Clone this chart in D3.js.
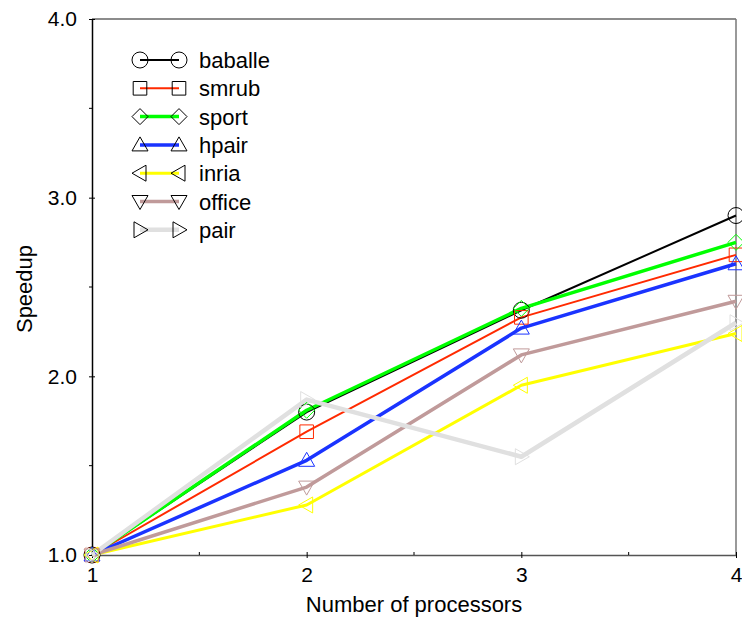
<!DOCTYPE html>
<html>
<head>
<meta charset="utf-8">
<script src="https://cdn.jsdelivr.net/npm/d3@7"></script>
<style>
  body { margin: 0; background: #fff; }
  text { font-family: "Liberation Sans", Arial, sans-serif; }
</style>
</head>
<body>
<div id="chart"></div>
<script>
// data
const processors = [1, 2, 3, 4];
const seriesNames = ["baballe", "smrub", "sport", "hpair", "inria", "office", "pair"];
const baballe = [1.0, 1.80, 2.37, 2.90];
const smrub   = [1.0, 1.69, 2.33, 2.68];
const sport   = [1.0, 1.81, 2.38, 2.75];
const hpair   = [1.0, 1.53, 2.27, 2.63];
const inria   = [1.0, 1.28, 1.95, 2.24];
const office  = [1.0, 1.38, 2.12, 2.42];
const pair    = [1.0, 1.87, 1.55, 2.30];
const yTicks = [1.0, 2.0, 3.0, 4.0];
const xTicks = [1, 2, 3, 4];

const values = [baballe, smrub, sport, hpair, inria, office, pair];
const colors = ["#000000", "#ff2a00", "#00ff00", "#1a33ff", "#ffff00", "#c09a9a", "#e0e0e0"];
const widths = [2, 2, 3.5, 3.5, 3, 3.5, 4.5];
const shapes = ["circle", "square", "diamond", "up", "left", "down", "right"];

const margin = {top: 19, right: 6, bottom: 69, left: 92},
  width = 742 - margin.left - margin.right,
  height = 624 - margin.top - margin.bottom;

const svg = d3.select("#chart")
  .append("svg")
  .attr("width", 742)
  .attr("height", 624)
  .append("g")
  .attr("transform", `translate(${margin.left},${margin.top})`);

const x = d3.scaleLinear().domain([1, 4]).range([0, width]);
const y = d3.scaleLinear().domain([1, 4]).range([height, 0]);

// frame: top and right in gray
svg.append("line").attr("x1", 0).attr("x2", width).attr("y1", 0).attr("y2", 0)
  .attr("stroke", "#666").attr("stroke-width", 1.5);
svg.append("line").attr("x1", width).attr("x2", width).attr("y1", 0).attr("y2", height)
  .attr("stroke", "#777").attr("stroke-width", 1.5);

// X axis
const xAxis = svg.append("g")
  .attr("transform", `translate(0, ${height})`)
  .call(d3.axisBottom(x).tickValues(xTicks).tickFormat(d3.format("d")).tickSize(3).tickSizeOuter(0));
xAxis.select(".domain").attr("stroke", "#555").attr("stroke-width", 1.5);
xAxis.selectAll(".tick line").attr("y1", -3).attr("y2", 3);
xAxis.selectAll(".tick text").attr("font-size", 21).attr("dy", 0).attr("y", 27)
  .attr("font-family", "Liberation Sans, Arial, sans-serif").attr("fill", "#000");
// minor x ticks
svg.append("g").selectAll("line").data([1.5, 2.5, 3.5]).join("line")
  .attr("x1", d => x(d)).attr("x2", d => x(d))
  .attr("y1", height - 3).attr("y2", height).attr("stroke", "#000");

// Y axis
const yAxis = svg.append("g")
  .call(d3.axisLeft(y).tickValues(yTicks).tickFormat(d3.format(".1f")).tickSize(3).tickSizeOuter(0));
yAxis.select(".domain").attr("stroke", "#000").attr("stroke-width", 1.5);
yAxis.selectAll(".tick line").attr("x1", -3).attr("x2", 3);
yAxis.selectAll(".tick text").attr("font-size", 21).attr("x", -15)
  .attr("font-family", "Liberation Sans, Arial, sans-serif").attr("fill", "#000");
svg.append("g").selectAll("line").data([1.5, 2.5, 3.5]).join("line")
  .attr("x1", -3).attr("x2", 0)
  .attr("y1", d => y(d)).attr("y2", d => y(d)).attr("stroke", "#000");

// axis titles
svg.append("text")
  .attr("x", width / 2).attr("y", height + 57)
  .attr("text-anchor", "middle").attr("font-size", 22)
  .text("Number of processors");
svg.append("text")
  .attr("transform", `translate(${-60}, ${height / 2 + 2}) rotate(-90)`)
  .attr("text-anchor", "middle").attr("font-size", 22)
  .text("Speedup");

// marker path builder
function markerPath(shape, r) {
  const s = d3.path();
  if (shape === "circle") {
    s.arc(0, 0, r, 0, 2 * Math.PI);
  } else if (shape === "square") {
    s.rect(-r * 0.85, -r * 0.85, r * 1.7, r * 1.7);
  } else if (shape === "diamond") {
    s.moveTo(0, -r); s.lineTo(r, 0); s.lineTo(0, r); s.lineTo(-r, 0); s.closePath();
  } else if (shape === "up") {
    s.moveTo(0, -r); s.lineTo(r, r * 0.75); s.lineTo(-r, r * 0.75); s.closePath();
  } else if (shape === "down") {
    s.moveTo(0, r); s.lineTo(r, -r * 0.75); s.lineTo(-r, -r * 0.75); s.closePath();
  } else if (shape === "left") {
    s.moveTo(-r, 0); s.lineTo(r * 0.75, -r); s.lineTo(r * 0.75, r); s.closePath();
  } else if (shape === "right") {
    s.moveTo(r, 0); s.lineTo(-r * 0.75, -r); s.lineTo(-r * 0.75, r); s.closePath();
  }
  return s.toString();
}

const line = d3.line()
  .x((d, i) => x(processors[i]))
  .y(d => y(d));

// lines and markers
values.forEach(function(vals, k) {
  svg.append("path")
    .datum(vals)
    .attr("fill", "none")
    .attr("stroke", colors[k])
    .attr("stroke-width", widths[k])
    .attr("stroke-linejoin", "round")
    .attr("d", line);
});
values.forEach(function(vals, k) {
  svg.append("g").selectAll("path")
    .data(vals)
    .join("path")
    .attr("transform", (d, i) => `translate(${x(processors[i])},${y(d)})`)
    .attr("d", markerPath(shapes[k], 8))
    .attr("fill", "none")
    .attr("stroke", k === 0 ? "#000" : colors[k])
    .attr("stroke-width", 1);
});

// legend
const legend = svg.append("g").attr("transform", "translate(40, 41)");
seriesNames.forEach(function(name, k) {
  const g = legend.append("g").attr("transform", `translate(0, ${k * 28.3})`);
  g.append("line").attr("x1", 8).attr("x2", 47).attr("y1", 0).attr("y2", 0)
    .attr("stroke", colors[k]).attr("stroke-width", widths[k]);
  [8, 47].forEach(function(px) {
    g.append("path").attr("transform", `translate(${px},0)`)
      .attr("d", markerPath(shapes[k], 8))
      .attr("fill", "none").attr("stroke", "#000").attr("stroke-width", 1);
  });
  g.append("text").attr("x", 67).attr("y", 8).attr("font-size", 22).text(name);
});
</script>
</body>
</html>
